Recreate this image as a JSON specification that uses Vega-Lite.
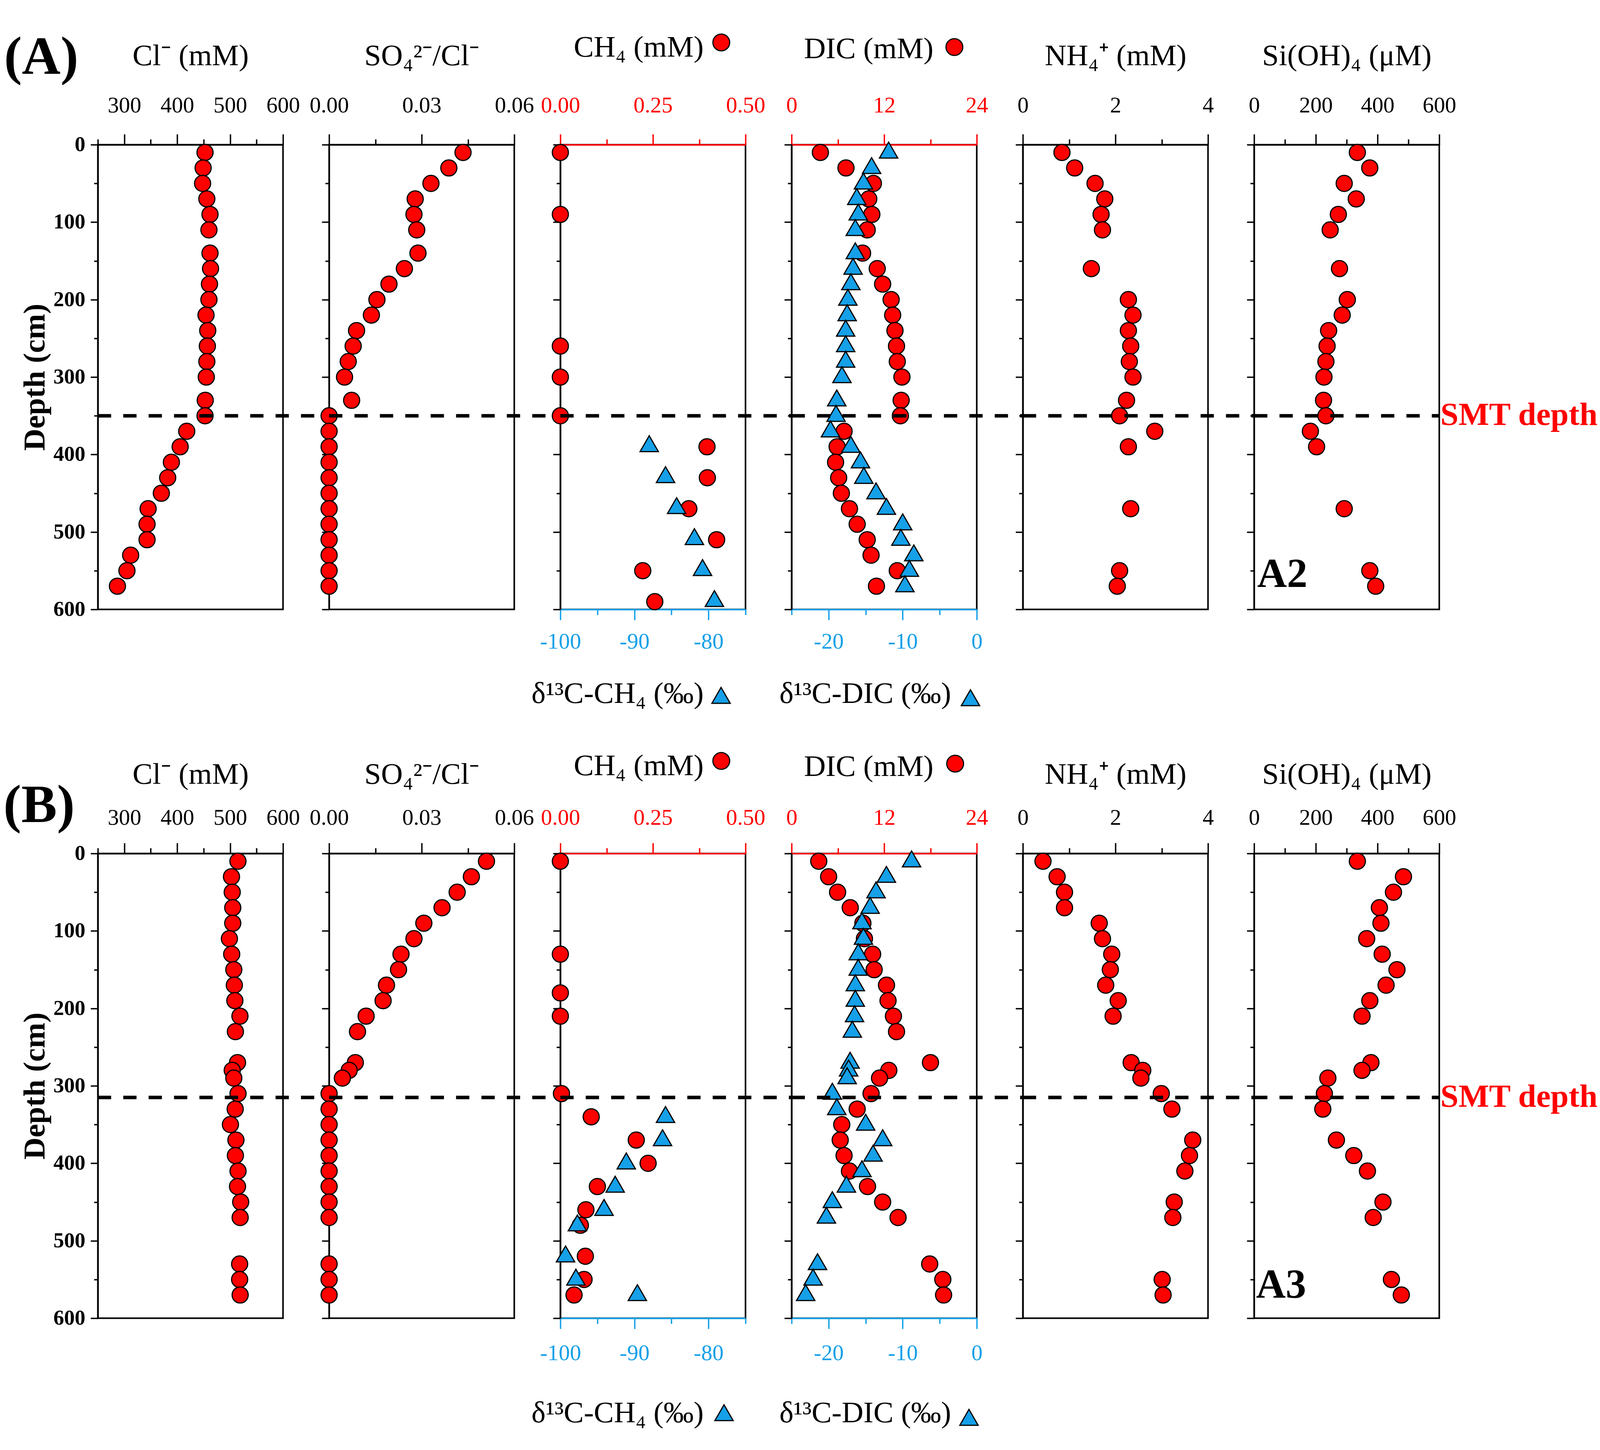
{
  "$schema": "https://vega.github.io/schema/vega-lite/v6.json",
  "padding": {"left": 6.5, "top": 76.5, "right": 0, "bottom": 4},
  "background": "#ffffff",
  "datasets": {
    "A_cl": [{"d":10,"v":452.6},{"d":30,"v":449},{"d":50,"v":448},{"d":70,"v":456},{"d":90,"v":462},{"d":110,"v":460},{"d":140,"v":462},{"d":160,"v":463},{"d":180,"v":461},{"d":200,"v":460},{"d":220,"v":454.5},{"d":240,"v":457.7},{"d":260,"v":457},{"d":280,"v":456},{"d":300,"v":455},{"d":330,"v":453},{"d":350,"v":452.6},{"d":370,"v":418},{"d":390,"v":405.6},{"d":410,"v":389},{"d":430,"v":382},{"d":450,"v":370},{"d":470,"v":345},{"d":490,"v":343},{"d":510,"v":343},{"d":530,"v":312},{"d":550,"v":305},{"d":570,"v":287}],
    "A_so4": [{"d":10,"v":0.0434},{"d":30,"v":0.0388},{"d":50,"v":0.033},{"d":70,"v":0.0279},{"d":90,"v":0.0275},{"d":110,"v":0.0284},{"d":140,"v":0.0288},{"d":160,"v":0.0244},{"d":180,"v":0.0194},{"d":200,"v":0.0155},{"d":220,"v":0.0137},{"d":240,"v":0.0089},{"d":260,"v":0.0078},{"d":280,"v":0.0062},{"d":300,"v":0.005},{"d":330,"v":0.0073},{"d":350,"v":0},{"d":370,"v":0},{"d":390,"v":0},{"d":410,"v":0},{"d":430,"v":0},{"d":450,"v":0},{"d":470,"v":0},{"d":490,"v":0},{"d":510,"v":0},{"d":530,"v":0},{"d":550,"v":0},{"d":570,"v":0}],
    "A_ch4": [{"d":10,"v":0},{"d":90,"v":0},{"d":260,"v":0},{"d":300,"v":0},{"d":350,"v":0},{"d":390,"v":0.396},{"d":430,"v":0.397},{"d":470,"v":0.347},{"d":510,"v":0.422},{"d":550,"v":0.2225},{"d":590,"v":0.255}],
    "A_dch4": [{"d":386,"v":-88.0},{"d":426,"v":-85.8},{"d":466,"v":-84.3},{"d":506,"v":-81.9},{"d":546,"v":-80.8},{"d":586,"v":-79.2}],
    "A_dic": [{"d":10,"v":3.73},{"d":30,"v":7.05},{"d":50,"v":10.6},{"d":70,"v":10.0},{"d":90,"v":10.4},{"d":110,"v":9.8},{"d":140,"v":9.2},{"d":160,"v":11.1},{"d":180,"v":11.8},{"d":200,"v":12.9},{"d":220,"v":13.1},{"d":240,"v":13.4},{"d":260,"v":13.6},{"d":280,"v":13.7},{"d":300,"v":14.3},{"d":330,"v":14.2},{"d":350,"v":14.1},{"d":370,"v":6.8},{"d":390,"v":5.9},{"d":410,"v":5.7},{"d":430,"v":6.1},{"d":450,"v":6.45},{"d":470,"v":7.5},{"d":490,"v":8.5},{"d":510,"v":9.8},{"d":530,"v":10.3},{"d":550,"v":13.7},{"d":570,"v":11.0}],
    "A_ddic": [{"d":7,"v":-11.9},{"d":27,"v":-14.2},{"d":47,"v":-15.3},{"d":67,"v":-16.2},{"d":87,"v":-16.0},{"d":107,"v":-16.4},{"d":137,"v":-16.4},{"d":157,"v":-16.7},{"d":177,"v":-17.0},{"d":197,"v":-17.4},{"d":217,"v":-17.5},{"d":237,"v":-17.7},{"d":257,"v":-17.7},{"d":277,"v":-17.7},{"d":297,"v":-18.2},{"d":327,"v":-18.9},{"d":347,"v":-19.0},{"d":367,"v":-19.75},{"d":387,"v":-17.0},{"d":407,"v":-15.7},{"d":427,"v":-15.25},{"d":447,"v":-13.6},{"d":467,"v":-12.2},{"d":487,"v":-10.0},{"d":507,"v":-10.25},{"d":527,"v":-8.5},{"d":547,"v":-9.1},{"d":567,"v":-9.7}],
    "A_nh4": [{"d":10,"v":0.845},{"d":30,"v":1.12},{"d":50,"v":1.56},{"d":70,"v":1.77},{"d":90,"v":1.69},{"d":110,"v":1.72},{"d":160,"v":1.48},{"d":200,"v":2.28},{"d":220,"v":2.38},{"d":240,"v":2.28},{"d":260,"v":2.33},{"d":280,"v":2.30},{"d":300,"v":2.38},{"d":330,"v":2.24},{"d":350,"v":2.09},{"d":370,"v":2.85},{"d":390,"v":2.28},{"d":470,"v":2.33},{"d":550,"v":2.09},{"d":570,"v":2.04}],
    "A_si": [{"d":10,"v":334.6},{"d":30,"v":374.8},{"d":50,"v":292},{"d":70,"v":331},{"d":90,"v":273},{"d":110,"v":246.5},{"d":160,"v":276.7},{"d":200,"v":302},{"d":220,"v":285.5},{"d":240,"v":241.5},{"d":260,"v":236.5},{"d":280,"v":232.7},{"d":300,"v":226.4},{"d":330,"v":225},{"d":350,"v":232.7},{"d":370,"v":182.4},{"d":390,"v":202.5},{"d":470,"v":292},{"d":550,"v":375},{"d":570,"v":394}],
    "B_cl": [{"d":10,"v":514.8},{"d":30,"v":502.6},{"d":50,"v":504},{"d":70,"v":505},{"d":90,"v":505},{"d":110,"v":498.7},{"d":130,"v":503},{"d":150,"v":507},{"d":170,"v":508},{"d":190,"v":509},{"d":210,"v":518.6},{"d":230,"v":510},{"d":270,"v":514},{"d":280,"v":504},{"d":290,"v":507},{"d":310,"v":515},{"d":330,"v":509.6},{"d":350,"v":500.6},{"d":370,"v":511},{"d":390,"v":510},{"d":410,"v":515},{"d":430,"v":514},{"d":450,"v":520},{"d":470,"v":519},{"d":530,"v":518},{"d":550,"v":518},{"d":570,"v":519}],
    "B_so4": [{"d":10,"v":0.051},{"d":30,"v":0.0461},{"d":50,"v":0.0415},{"d":70,"v":0.0366},{"d":90,"v":0.0307},{"d":110,"v":0.0275},{"d":130,"v":0.0233},{"d":150,"v":0.0225},{"d":170,"v":0.0186},{"d":190,"v":0.0175},{"d":210,"v":0.012},{"d":230,"v":0.0092},{"d":270,"v":0.0085},{"d":280,"v":0.0065},{"d":290,"v":0.0043},{"d":310,"v":0},{"d":330,"v":0},{"d":350,"v":0},{"d":370,"v":0},{"d":390,"v":0},{"d":410,"v":0},{"d":430,"v":0},{"d":450,"v":0},{"d":470,"v":0},{"d":530,"v":0},{"d":550,"v":0},{"d":570,"v":0}],
    "B_ch4": [{"d":10,"v":0},{"d":130,"v":0},{"d":180,"v":0},{"d":210,"v":0},{"d":310,"v":0.003},{"d":340,"v":0.0833},{"d":370,"v":0.205},{"d":400,"v":0.237},{"d":430,"v":0.1},{"d":460,"v":0.069},{"d":480,"v":0.054},{"d":520,"v":0.0675},{"d":550,"v":0.064},{"d":570,"v":0.037}],
    "B_dch4": [{"d":337,"v":-85.8},{"d":367,"v":-86.2},{"d":397,"v":-91.1},{"d":427,"v":-92.6},{"d":457,"v":-94.1},{"d":477,"v":-97.7},{"d":517,"v":-99.3},{"d":547,"v":-97.9},{"d":567,"v":-89.6}],
    "B_dic": [{"d":10,"v":3.52},{"d":30,"v":4.8},{"d":50,"v":5.96},{"d":70,"v":7.6},{"d":90,"v":9.24},{"d":110,"v":9.44},{"d":130,"v":10.5},{"d":150,"v":10.7},{"d":170,"v":12.3},{"d":190,"v":12.5},{"d":210,"v":13.2},{"d":230,"v":13.6},{"d":270,"v":18.0},{"d":280,"v":12.6},{"d":290,"v":11.4},{"d":310,"v":10.3},{"d":330,"v":8.5},{"d":350,"v":6.5},{"d":370,"v":6.3},{"d":390,"v":6.8},{"d":410,"v":7.5},{"d":430,"v":9.84},{"d":450,"v":11.8},{"d":470,"v":13.8},{"d":530,"v":17.9},{"d":550,"v":19.6},{"d":570,"v":19.7}],
    "B_ddic": [{"d":7,"v":-8.8},{"d":27,"v":-12.2},{"d":47,"v":-13.6},{"d":67,"v":-14.4},{"d":87,"v":-15.5},{"d":107,"v":-15.3},{"d":127,"v":-16.0},{"d":147,"v":-16.0},{"d":167,"v":-16.4},{"d":187,"v":-16.4},{"d":207,"v":-16.5},{"d":227,"v":-16.8},{"d":267,"v":-17.1},{"d":277,"v":-17.3},{"d":287,"v":-17.5},{"d":307,"v":-19.5},{"d":327,"v":-18.9},{"d":347,"v":-15.0},{"d":367,"v":-12.7},{"d":387,"v":-14.0},{"d":407,"v":-15.5},{"d":427,"v":-17.6},{"d":447,"v":-19.5},{"d":467,"v":-20.3},{"d":527,"v":-21.5},{"d":547,"v":-22.1},{"d":567,"v":-23.1}],
    "B_nh4": [{"d":10,"v":0.435},{"d":30,"v":0.74},{"d":50,"v":0.90},{"d":70,"v":0.90},{"d":90,"v":1.65},{"d":110,"v":1.72},{"d":130,"v":1.92},{"d":150,"v":1.89},{"d":170,"v":1.79},{"d":190,"v":2.06},{"d":210,"v":1.95},{"d":270,"v":2.34},{"d":280,"v":2.59},{"d":290,"v":2.55},{"d":310,"v":2.99},{"d":330,"v":3.22},{"d":370,"v":3.67},{"d":390,"v":3.60},{"d":410,"v":3.50},{"d":450,"v":3.27},{"d":470,"v":3.24},{"d":550,"v":3.01},{"d":570,"v":3.03}],
    "B_si": [{"d":10,"v":334.6},{"d":30,"v":484},{"d":50,"v":451.6},{"d":70,"v":406},{"d":90,"v":411},{"d":110,"v":364.8},{"d":130,"v":415},{"d":150,"v":463},{"d":170,"v":427.7},{"d":190,"v":375},{"d":210,"v":349.7},{"d":270,"v":378.6},{"d":280,"v":349.7},{"d":290,"v":239},{"d":310,"v":227.7},{"d":330,"v":222.6},{"d":370,"v":266.7},{"d":390,"v":323},{"d":410,"v":367.3},{"d":450,"v":417.6},{"d":470,"v":386},{"d":550,"v":445},{"d":570,"v":477}]
  },
  "columns": 6,
  "spacing": {"row": 625, "column": 118},
  "bounds": "flush",
  "concat": [
    {
      "width": 474, "height": 1190,
      "layer": [
        {"data": {"name": "A_cl"},
         "mark": {"type": "point", "shape": "circle", "filled": true, "fill": "#ff0000", "stroke": "#000000", "strokeWidth": 3, "size": 1700, "opacity": 1, "clip": false},
         "encoding": {
           "x": {"field": "v", "type": "quantitative", "scale": {"domain": [250, 600], "nice": false, "zero": false},
                 "axis": {"orient": "top", "values": [250, 300, 350, 400, 450, 500, 550, 600], "format": "d", "labelExpr": "datum.value % 100 === 0 ? datum.label : ''", "tickSize": {"condition": {"test": "datum.value % 100 === 0", "value": 27}, "value": 14}, "labelPadding": 44, "title": "Cl⁻ (mM)", "titlePadding": 58.6}},
           "y": {"field": "d", "type": "quantitative", "scale": {"domain": [0, 600], "reverse": true, "nice": false, "zero": false},
                 "axis": {"values": [0, 50, 100, 150, 200, 250, 300, 350, 400, 450, 500, 550, 600], "labelExpr": "datum.value % 100 === 0 ? datum.label : ''", "tickSize": {"condition": {"test": "datum.value % 100 === 0", "value": 18.6}, "value": 9.9}, "labelFontWeight": "bold", "labelFontSize": 54.6, "labelPadding": 13.8, "title": "Depth (cm)", "titleFontWeight": "bold", "titleFontSize": 78.4, "titlePadding": 7}}
         }},
        {"data": {"values": [{}]},
         "mark": {"type": "rule", "color": "#000000", "strokeWidth": 9, "strokeDash": [34, 31], "clip": false},
         "encoding": {"x": {"datum": 250, "type": "quantitative", "scale": {"domain": [250, 600], "nice": false, "zero": false}}, "x2": {"datum": 687.1}, "y": {"datum": 350, "type": "quantitative", "scale": {"domain": [0, 600], "reverse": true, "nice": false, "zero": false}}}},
        {"data": {"values": [{}]},
         "mark": {"type": "text", "text": "(A)", "fontSize": 137, "fontWeight": "bold", "align": "center", "baseline": "middle", "clip": false},
         "encoding": {"x": {"datum": 143, "type": "quantitative", "scale": {"domain": [250, 600], "nice": false, "zero": false}}, "y": {"datum": -112.4, "type": "quantitative", "scale": {"domain": [0, 600], "reverse": true, "nice": false, "zero": false}}}}
      ]
    },
    {
      "width": 474, "height": 1190,
      "layer": [
        {"data": {"name": "A_so4"},
         "mark": {"type": "point", "shape": "circle", "filled": true, "fill": "#ff0000", "stroke": "#000000", "strokeWidth": 3, "size": 1700, "opacity": 1, "clip": false},
         "encoding": {
           "x": {"field": "v", "type": "quantitative", "scale": {"domain": [0, 0.06], "nice": false, "zero": false},
                 "axis": {"orient": "top", "values": [0, 0.015, 0.03, 0.045, 0.06], "format": ".2f", "labelExpr": "round(datum.value * 1000) % 30 === 0 ? datum.label : ''", "tickSize": {"condition": {"test": "round(datum.value * 1000) % 30 === 0", "value": 27}, "value": 14}, "labelPadding": 44, "title": "SO₄²⁻/Cl⁻", "titlePadding": 58.6}},
           "y": {"field": "d", "type": "quantitative", "scale": {"domain": [0, 600], "reverse": true, "nice": false, "zero": false},
                 "axis": {"values": [0, 50, 100, 150, 200, 250, 300, 350, 400, 450, 500, 550, 600], "labels": false, "tickSize": {"condition": {"test": "datum.value % 100 === 0", "value": 18.6}, "value": 9.9}, "title": null}}
         }},
        {"data": {"values": [{}]},
         "mark": {"type": "rule", "color": "#000000", "strokeWidth": 9, "strokeDash": [34, 31], "clip": false},
         "encoding": {"x": {"datum": 0, "type": "quantitative", "scale": {"domain": [0, 0.06], "nice": false, "zero": false}}, "x2": {"datum": 0.07494}, "y": {"datum": 350, "type": "quantitative", "scale": {"domain": [0, 600], "reverse": true, "nice": false, "zero": false}}}}
      ]
    },
    {
      "width": 474, "height": 1190,
      "resolve": {"scale": {"x": "independent"}, "axis": {"x": "independent"}},
      "layer": [
        {"data": {"name": "A_ch4"},
         "mark": {"type": "point", "shape": "circle", "filled": true, "fill": "#ff0000", "stroke": "#000000", "strokeWidth": 3, "size": 1700, "opacity": 1, "clip": false},
         "encoding": {
           "x": {"field": "v", "type": "quantitative", "scale": {"domain": [0, 0.5], "nice": false, "zero": false},
                 "axis": {"orient": "top", "values": [0, 0.125, 0.25, 0.375, 0.5], "format": ".2f", "labelExpr": "round(datum.value * 1000) % 250 === 0 ? datum.label : ''", "tickSize": {"condition": {"test": "round(datum.value * 1000) % 250 === 0", "value": 27}, "value": 14}, "labelPadding": 44, "domainColor": "#ff0000", "tickColor": "#ff0000", "labelColor": "#ff0000", "title": "CH₄ (mM)", "titleX": 200, "titlePadding": 80.6}},
           "y": {"field": "d", "type": "quantitative", "scale": {"domain": [0, 600], "reverse": true, "nice": false, "zero": false},
                 "axis": {"values": [0, 50, 100, 150, 200, 250, 300, 350, 400, 450, 500, 550, 600], "labels": false, "tickSize": {"condition": {"test": "datum.value % 100 === 0", "value": 18.6}, "value": 9.9}, "title": null}}
         }},
        {"data": {"name": "A_dch4"},
         "mark": {"type": "point", "shape": "triangle-up", "filled": true, "fill": "#15a0e8", "stroke": "#000000", "strokeWidth": 3, "size": 2200, "opacity": 1, "clip": false},
         "encoding": {
           "x": {"field": "v", "type": "quantitative", "scale": {"domain": [-100, -75], "nice": false, "zero": false},
                 "axis": {"orient": "bottom", "values": [-100, -95, -90, -85, -80, -75], "labelExpr": "datum.value % 10 === 0 ? '' + datum.value : ''", "tickSize": {"condition": {"test": "datum.value % 10 === 0", "value": 27}, "value": 14}, "labelPadding": 28, "domainColor": "#15a0e8", "tickColor": "#15a0e8", "labelColor": "#15a0e8", "title": "δ¹³C-CH₄ (‰)", "titleX": 146, "titlePadding": 66.6}},
           "y": {"field": "d", "type": "quantitative", "scale": {"domain": [0, 600], "reverse": true, "nice": false, "zero": false}}
         }},
        {"data": {"values": [{}]},
         "mark": {"type": "rule", "color": "#000000", "strokeWidth": 9, "strokeDash": [34, 31], "clip": false},
         "encoding": {"x": {"datum": 0, "type": "quantitative", "scale": {"domain": [0, 0.5], "nice": false, "zero": false}, "axis": null}, "x2": {"datum": 0.6245}, "y": {"datum": 350, "type": "quantitative", "scale": {"domain": [0, 600], "reverse": true, "nice": false, "zero": false}}}},
        {"data": {"values": [{}]},
         "mark": {"type": "point", "shape": "circle", "filled": true, "fill": "#ff0000", "stroke": "#000000", "strokeWidth": 3, "size": 1850, "opacity": 1, "clip": false},
         "encoding": {"x": {"datum": 0.4346, "type": "quantitative", "scale": {"domain": [0, 0.5], "nice": false, "zero": false}, "axis": null}, "y": {"datum": -132, "type": "quantitative", "scale": {"domain": [0, 600], "reverse": true, "nice": false, "zero": false}}}},
        {"data": {"values": [{}]},
         "mark": {"type": "point", "shape": "triangle-up", "filled": true, "fill": "#15a0e8", "stroke": "#000000", "strokeWidth": 3, "size": 2200, "opacity": 1, "clip": false},
         "encoding": {"x": {"datum": -78.3, "type": "quantitative", "scale": {"domain": [-100, -75], "nice": false, "zero": false}, "axis": null}, "y": {"datum": 711, "type": "quantitative", "scale": {"domain": [0, 600], "reverse": true, "nice": false, "zero": false}}}}
      ]
    },
    {
      "width": 474, "height": 1190,
      "resolve": {"scale": {"x": "independent"}, "axis": {"x": "independent"}},
      "layer": [
        {"data": {"name": "A_dic"},
         "mark": {"type": "point", "shape": "circle", "filled": true, "fill": "#ff0000", "stroke": "#000000", "strokeWidth": 3, "size": 1700, "opacity": 1, "clip": false},
         "encoding": {
           "x": {"field": "v", "type": "quantitative", "scale": {"domain": [0, 24], "nice": false, "zero": false},
                 "axis": {"orient": "top", "values": [0, 6, 12, 18, 24], "format": "d", "labelExpr": "datum.value % 12 === 0 ? datum.label : ''", "tickSize": {"condition": {"test": "datum.value % 12 === 0", "value": 27}, "value": 14}, "labelPadding": 44, "domainColor": "#ff0000", "tickColor": "#ff0000", "labelColor": "#ff0000", "title": "DIC (mM)", "titleX": 197, "titlePadding": 77}},
           "y": {"field": "d", "type": "quantitative", "scale": {"domain": [0, 600], "reverse": true, "nice": false, "zero": false},
                 "axis": {"values": [0, 50, 100, 150, 200, 250, 300, 350, 400, 450, 500, 550, 600], "labels": false, "tickSize": {"condition": {"test": "datum.value % 100 === 0", "value": 18.6}, "value": 9.9}, "title": null}}
         }},
        {"data": {"name": "A_ddic"},
         "mark": {"type": "point", "shape": "triangle-up", "filled": true, "fill": "#15a0e8", "stroke": "#000000", "strokeWidth": 3, "size": 2200, "opacity": 1, "clip": false},
         "encoding": {
           "x": {"field": "v", "type": "quantitative", "scale": {"domain": [-25, 0], "nice": false, "zero": false},
                 "axis": {"orient": "bottom", "values": [-25, -20, -15, -10, -5, 0], "labelExpr": "datum.value % 10 === 0 ? '' + datum.value : ''", "tickSize": {"condition": {"test": "datum.value % 10 === 0", "value": 27}, "value": 14}, "labelPadding": 28, "domainColor": "#15a0e8", "tickColor": "#15a0e8", "labelColor": "#15a0e8", "title": "δ¹³C-DIC (‰)", "titleX": 188, "titlePadding": 66.6}},
           "y": {"field": "d", "type": "quantitative", "scale": {"domain": [0, 600], "reverse": true, "nice": false, "zero": false}}
         }},
        {"data": {"values": [{}]},
         "mark": {"type": "rule", "color": "#000000", "strokeWidth": 9, "strokeDash": [34, 31], "clip": false},
         "encoding": {"x": {"datum": 0, "type": "quantitative", "scale": {"domain": [0, 24], "nice": false, "zero": false}, "axis": null}, "x2": {"datum": 29.97}, "y": {"datum": 350, "type": "quantitative", "scale": {"domain": [0, 600], "reverse": true, "nice": false, "zero": false}}}},
        {"data": {"values": [{}]},
         "mark": {"type": "point", "shape": "circle", "filled": true, "fill": "#ff0000", "stroke": "#000000", "strokeWidth": 3, "size": 1850, "opacity": 1, "clip": false},
         "encoding": {"x": {"datum": 21.1, "type": "quantitative", "scale": {"domain": [0, 24], "nice": false, "zero": false}, "axis": null}, "y": {"datum": -126, "type": "quantitative", "scale": {"domain": [0, 600], "reverse": true, "nice": false, "zero": false}}}},
        {"data": {"values": [{}]},
         "mark": {"type": "point", "shape": "triangle-up", "filled": true, "fill": "#15a0e8", "stroke": "#000000", "strokeWidth": 3, "size": 2200, "opacity": 1, "clip": false},
         "encoding": {"x": {"datum": -0.85, "type": "quantitative", "scale": {"domain": [-25, 0], "nice": false, "zero": false}, "axis": null}, "y": {"datum": 714, "type": "quantitative", "scale": {"domain": [0, 600], "reverse": true, "nice": false, "zero": false}}}}
      ]
    },
    {
      "width": 474, "height": 1190,
      "layer": [
        {"data": {"name": "A_nh4"},
         "mark": {"type": "point", "shape": "circle", "filled": true, "fill": "#ff0000", "stroke": "#000000", "strokeWidth": 3, "size": 1700, "opacity": 1, "clip": false},
         "encoding": {
           "x": {"field": "v", "type": "quantitative", "scale": {"domain": [0, 4], "nice": false, "zero": false},
                 "axis": {"orient": "top", "values": [0, 1, 2, 3, 4], "format": "d", "labelExpr": "datum.value % 2 === 0 ? datum.label : ''", "tickSize": {"condition": {"test": "datum.value % 2 === 0", "value": 27}, "value": 14}, "labelPadding": 44, "title": "NH₄⁺ (mM)", "titlePadding": 58.6}},
           "y": {"field": "d", "type": "quantitative", "scale": {"domain": [0, 600], "reverse": true, "nice": false, "zero": false},
                 "axis": {"values": [0, 50, 100, 150, 200, 250, 300, 350, 400, 450, 500, 550, 600], "labels": false, "tickSize": {"condition": {"test": "datum.value % 100 === 0", "value": 18.6}, "value": 9.9}, "title": null}}
         }},
        {"data": {"values": [{}]},
         "mark": {"type": "rule", "color": "#000000", "strokeWidth": 9, "strokeDash": [34, 31], "clip": false},
         "encoding": {"x": {"datum": 0, "type": "quantitative", "scale": {"domain": [0, 4], "nice": false, "zero": false}}, "x2": {"datum": 4.996}, "y": {"datum": 350, "type": "quantitative", "scale": {"domain": [0, 600], "reverse": true, "nice": false, "zero": false}}}}
      ]
    },
    {
      "width": 474, "height": 1190,
      "layer": [
        {"data": {"name": "A_si"},
         "mark": {"type": "point", "shape": "circle", "filled": true, "fill": "#ff0000", "stroke": "#000000", "strokeWidth": 3, "size": 1700, "opacity": 1, "clip": false},
         "encoding": {
           "x": {"field": "v", "type": "quantitative", "scale": {"domain": [0, 600], "nice": false, "zero": false},
                 "axis": {"orient": "top", "values": [0, 100, 200, 300, 400, 500, 600], "format": "d", "labelExpr": "datum.value % 200 === 0 ? datum.label : ''", "tickSize": {"condition": {"test": "datum.value % 200 === 0", "value": 27}, "value": 14}, "labelPadding": 44, "title": "Si(OH)₄ (μM)", "titlePadding": 58.6}},
           "y": {"field": "d", "type": "quantitative", "scale": {"domain": [0, 600], "reverse": true, "nice": false, "zero": false},
                 "axis": {"values": [0, 50, 100, 150, 200, 250, 300, 350, 400, 450, 500, 550, 600], "labels": false, "tickSize": {"condition": {"test": "datum.value % 100 === 0", "value": 18.6}, "value": 9.9}, "title": null}}
         }},
        {"data": {"values": [{}]},
         "mark": {"type": "rule", "color": "#000000", "strokeWidth": 9, "strokeDash": [34, 31], "clip": false},
         "encoding": {"x": {"datum": 0, "type": "quantitative", "scale": {"domain": [0, 600], "nice": false, "zero": false}}, "x2": {"datum": 600}, "y": {"datum": 350, "type": "quantitative", "scale": {"domain": [0, 600], "reverse": true, "nice": false, "zero": false}}}},
        {"data": {"values": [{}]},
         "mark": {"type": "text", "text": "SMT depth", "fontSize": 83, "fontWeight": "bold", "color": "#ff0000", "align": "left", "baseline": "alphabetic", "dx": 3, "dy": 23, "clip": false},
         "encoding": {"x": {"datum": 600, "type": "quantitative", "scale": {"domain": [0, 600], "nice": false, "zero": false}}, "y": {"datum": 350, "type": "quantitative", "scale": {"domain": [0, 600], "reverse": true, "nice": false, "zero": false}}}},
        {"data": {"values": [{}]},
         "mark": {"type": "text", "text": "A2", "fontSize": 105, "fontWeight": "bold", "color": "#000000", "align": "left", "baseline": "alphabetic", "clip": false},
         "encoding": {"x": {"datum": 10.2, "type": "quantitative", "scale": {"domain": [0, 600], "nice": false, "zero": false}}, "y": {"datum": 571, "type": "quantitative", "scale": {"domain": [0, 600], "reverse": true, "nice": false, "zero": false}}}}
      ]
    },
    {
      "width": 474, "height": 1190,
      "layer": [
        {"data": {"name": "B_cl"},
         "mark": {"type": "point", "shape": "circle", "filled": true, "fill": "#ff0000", "stroke": "#000000", "strokeWidth": 3, "size": 1700, "opacity": 1, "clip": false},
         "encoding": {
           "x": {"field": "v", "type": "quantitative", "scale": {"domain": [250, 600], "nice": false, "zero": false},
                 "axis": {"orient": "top", "values": [250, 300, 350, 400, 450, 500, 550, 600], "format": "d", "labelExpr": "datum.value % 100 === 0 ? datum.label : ''", "tickSize": {"condition": {"test": "datum.value % 100 === 0", "value": 27}, "value": 14}, "labelPadding": 35, "title": "Cl⁻ (mM)", "titlePadding": 42.6}},
           "y": {"field": "d", "type": "quantitative", "scale": {"domain": [0, 600], "reverse": true, "nice": false, "zero": false},
                 "axis": {"values": [0, 50, 100, 150, 200, 250, 300, 350, 400, 450, 500, 550, 600], "labelExpr": "datum.value % 100 === 0 ? datum.label : ''", "tickSize": {"condition": {"test": "datum.value % 100 === 0", "value": 18.6}, "value": 9.9}, "labelFontWeight": "bold", "labelFontSize": 54.6, "labelPadding": 13.8, "title": "Depth (cm)", "titleFontWeight": "bold", "titleFontSize": 78.4, "titlePadding": 7}}
         }},
        {"data": {"values": [{}]},
         "mark": {"type": "rule", "color": "#000000", "strokeWidth": 9, "strokeDash": [34, 31], "clip": false},
         "encoding": {"x": {"datum": 250, "type": "quantitative", "scale": {"domain": [250, 600], "nice": false, "zero": false}}, "x2": {"datum": 687.1}, "y": {"datum": 315, "type": "quantitative", "scale": {"domain": [0, 600], "reverse": true, "nice": false, "zero": false}}}},
        {"data": {"values": [{}]},
         "mark": {"type": "text", "text": "(B)", "fontSize": 137, "fontWeight": "bold", "align": "center", "baseline": "middle", "clip": false},
         "encoding": {"x": {"datum": 139, "type": "quantitative", "scale": {"domain": [250, 600], "nice": false, "zero": false}}, "y": {"datum": -61.5, "type": "quantitative", "scale": {"domain": [0, 600], "reverse": true, "nice": false, "zero": false}}}}
      ]
    },
    {
      "width": 474, "height": 1190,
      "layer": [
        {"data": {"name": "B_so4"},
         "mark": {"type": "point", "shape": "circle", "filled": true, "fill": "#ff0000", "stroke": "#000000", "strokeWidth": 3, "size": 1700, "opacity": 1, "clip": false},
         "encoding": {
           "x": {"field": "v", "type": "quantitative", "scale": {"domain": [0, 0.06], "nice": false, "zero": false},
                 "axis": {"orient": "top", "values": [0, 0.015, 0.03, 0.045, 0.06], "format": ".2f", "labelExpr": "round(datum.value * 1000) % 30 === 0 ? datum.label : ''", "tickSize": {"condition": {"test": "round(datum.value * 1000) % 30 === 0", "value": 27}, "value": 14}, "labelPadding": 35, "title": "SO₄²⁻/Cl⁻", "titlePadding": 42.6}},
           "y": {"field": "d", "type": "quantitative", "scale": {"domain": [0, 600], "reverse": true, "nice": false, "zero": false},
                 "axis": {"values": [0, 50, 100, 150, 200, 250, 300, 350, 400, 450, 500, 550, 600], "labels": false, "tickSize": {"condition": {"test": "datum.value % 100 === 0", "value": 18.6}, "value": 9.9}, "title": null}}
         }},
        {"data": {"values": [{}]},
         "mark": {"type": "rule", "color": "#000000", "strokeWidth": 9, "strokeDash": [34, 31], "clip": false},
         "encoding": {"x": {"datum": 0, "type": "quantitative", "scale": {"domain": [0, 0.06], "nice": false, "zero": false}}, "x2": {"datum": 0.07494}, "y": {"datum": 315, "type": "quantitative", "scale": {"domain": [0, 600], "reverse": true, "nice": false, "zero": false}}}}
      ]
    },
    {
      "width": 474, "height": 1190,
      "resolve": {"scale": {"x": "independent"}, "axis": {"x": "independent"}},
      "layer": [
        {"data": {"name": "B_ch4"},
         "mark": {"type": "point", "shape": "circle", "filled": true, "fill": "#ff0000", "stroke": "#000000", "strokeWidth": 3, "size": 1700, "opacity": 1, "clip": false},
         "encoding": {
           "x": {"field": "v", "type": "quantitative", "scale": {"domain": [0, 0.5], "nice": false, "zero": false},
                 "axis": {"orient": "top", "values": [0, 0.125, 0.25, 0.375, 0.5], "format": ".2f", "labelExpr": "round(datum.value * 1000) % 250 === 0 ? datum.label : ''", "tickSize": {"condition": {"test": "round(datum.value * 1000) % 250 === 0", "value": 27}, "value": 14}, "labelPadding": 35, "domainColor": "#ff0000", "tickColor": "#ff0000", "labelColor": "#ff0000", "title": "CH₄ (mM)", "titleX": 200, "titlePadding": 64.6}},
           "y": {"field": "d", "type": "quantitative", "scale": {"domain": [0, 600], "reverse": true, "nice": false, "zero": false},
                 "axis": {"values": [0, 50, 100, 150, 200, 250, 300, 350, 400, 450, 500, 550, 600], "labels": false, "tickSize": {"condition": {"test": "datum.value % 100 === 0", "value": 18.6}, "value": 9.9}, "title": null}}
         }},
        {"data": {"name": "B_dch4"},
         "mark": {"type": "point", "shape": "triangle-up", "filled": true, "fill": "#15a0e8", "stroke": "#000000", "strokeWidth": 3, "size": 2200, "opacity": 1, "clip": false},
         "encoding": {
           "x": {"field": "v", "type": "quantitative", "scale": {"domain": [-100, -75], "nice": false, "zero": false},
                 "axis": {"orient": "bottom", "values": [-100, -95, -90, -85, -80, -75], "labelExpr": "datum.value % 10 === 0 ? '' + datum.value : ''", "tickSize": {"condition": {"test": "datum.value % 10 === 0", "value": 27}, "value": 14}, "labelPadding": 35, "domainColor": "#15a0e8", "tickColor": "#15a0e8", "labelColor": "#15a0e8", "title": "δ¹³C-CH₄ (‰)", "titleX": 146, "titlePadding": 86.6}},
           "y": {"field": "d", "type": "quantitative", "scale": {"domain": [0, 600], "reverse": true, "nice": false, "zero": false}}
         }},
        {"data": {"values": [{}]},
         "mark": {"type": "rule", "color": "#000000", "strokeWidth": 9, "strokeDash": [34, 31], "clip": false},
         "encoding": {"x": {"datum": 0, "type": "quantitative", "scale": {"domain": [0, 0.5], "nice": false, "zero": false}, "axis": null}, "x2": {"datum": 0.6245}, "y": {"datum": 315, "type": "quantitative", "scale": {"domain": [0, 600], "reverse": true, "nice": false, "zero": false}}}},
        {"data": {"values": [{}]},
         "mark": {"type": "point", "shape": "circle", "filled": true, "fill": "#ff0000", "stroke": "#000000", "strokeWidth": 3, "size": 1850, "opacity": 1, "clip": false},
         "encoding": {"x": {"datum": 0.4346, "type": "quantitative", "scale": {"domain": [0, 0.5], "nice": false, "zero": false}, "axis": null}, "y": {"datum": -119.5, "type": "quantitative", "scale": {"domain": [0, 600], "reverse": true, "nice": false, "zero": false}}}},
        {"data": {"values": [{}]},
         "mark": {"type": "point", "shape": "triangle-up", "filled": true, "fill": "#15a0e8", "stroke": "#000000", "strokeWidth": 3, "size": 2200, "opacity": 1, "clip": false},
         "encoding": {"x": {"datum": -77.9, "type": "quantitative", "scale": {"domain": [-100, -75], "nice": false, "zero": false}, "axis": null}, "y": {"datum": 722, "type": "quantitative", "scale": {"domain": [0, 600], "reverse": true, "nice": false, "zero": false}}}}
      ]
    },
    {
      "width": 474, "height": 1190,
      "resolve": {"scale": {"x": "independent"}, "axis": {"x": "independent"}},
      "layer": [
        {"data": {"name": "B_dic"},
         "mark": {"type": "point", "shape": "circle", "filled": true, "fill": "#ff0000", "stroke": "#000000", "strokeWidth": 3, "size": 1700, "opacity": 1, "clip": false},
         "encoding": {
           "x": {"field": "v", "type": "quantitative", "scale": {"domain": [0, 24], "nice": false, "zero": false},
                 "axis": {"orient": "top", "values": [0, 6, 12, 18, 24], "format": "d", "labelExpr": "datum.value % 12 === 0 ? datum.label : ''", "tickSize": {"condition": {"test": "datum.value % 12 === 0", "value": 27}, "value": 14}, "labelPadding": 35, "domainColor": "#ff0000", "tickColor": "#ff0000", "labelColor": "#ff0000", "title": "DIC (mM)", "titleX": 197, "titlePadding": 63}},
           "y": {"field": "d", "type": "quantitative", "scale": {"domain": [0, 600], "reverse": true, "nice": false, "zero": false},
                 "axis": {"values": [0, 50, 100, 150, 200, 250, 300, 350, 400, 450, 500, 550, 600], "labels": false, "tickSize": {"condition": {"test": "datum.value % 100 === 0", "value": 18.6}, "value": 9.9}, "title": null}}
         }},
        {"data": {"name": "B_ddic"},
         "mark": {"type": "point", "shape": "triangle-up", "filled": true, "fill": "#15a0e8", "stroke": "#000000", "strokeWidth": 3, "size": 2200, "opacity": 1, "clip": false},
         "encoding": {
           "x": {"field": "v", "type": "quantitative", "scale": {"domain": [-25, 0], "nice": false, "zero": false},
                 "axis": {"orient": "bottom", "values": [-25, -20, -15, -10, -5, 0], "labelExpr": "datum.value % 10 === 0 ? '' + datum.value : ''", "tickSize": {"condition": {"test": "datum.value % 10 === 0", "value": 27}, "value": 14}, "labelPadding": 35, "domainColor": "#15a0e8", "tickColor": "#15a0e8", "labelColor": "#15a0e8", "title": "δ¹³C-DIC (‰)", "titleX": 188, "titlePadding": 86.6}},
           "y": {"field": "d", "type": "quantitative", "scale": {"domain": [0, 600], "reverse": true, "nice": false, "zero": false}}
         }},
        {"data": {"values": [{}]},
         "mark": {"type": "rule", "color": "#000000", "strokeWidth": 9, "strokeDash": [34, 31], "clip": false},
         "encoding": {"x": {"datum": 0, "type": "quantitative", "scale": {"domain": [0, 24], "nice": false, "zero": false}, "axis": null}, "x2": {"datum": 29.97}, "y": {"datum": 315, "type": "quantitative", "scale": {"domain": [0, 600], "reverse": true, "nice": false, "zero": false}}}},
        {"data": {"values": [{}]},
         "mark": {"type": "point", "shape": "circle", "filled": true, "fill": "#ff0000", "stroke": "#000000", "strokeWidth": 3, "size": 1850, "opacity": 1, "clip": false},
         "encoding": {"x": {"datum": 21.2, "type": "quantitative", "scale": {"domain": [0, 24], "nice": false, "zero": false}, "axis": null}, "y": {"datum": -116, "type": "quantitative", "scale": {"domain": [0, 600], "reverse": true, "nice": false, "zero": false}}}},
        {"data": {"values": [{}]},
         "mark": {"type": "point", "shape": "triangle-up", "filled": true, "fill": "#15a0e8", "stroke": "#000000", "strokeWidth": 3, "size": 2200, "opacity": 1, "clip": false},
         "encoding": {"x": {"datum": -1.05, "type": "quantitative", "scale": {"domain": [-25, 0], "nice": false, "zero": false}, "axis": null}, "y": {"datum": 728, "type": "quantitative", "scale": {"domain": [0, 600], "reverse": true, "nice": false, "zero": false}}}}
      ]
    },
    {
      "width": 474, "height": 1190,
      "layer": [
        {"data": {"name": "B_nh4"},
         "mark": {"type": "point", "shape": "circle", "filled": true, "fill": "#ff0000", "stroke": "#000000", "strokeWidth": 3, "size": 1700, "opacity": 1, "clip": false},
         "encoding": {
           "x": {"field": "v", "type": "quantitative", "scale": {"domain": [0, 4], "nice": false, "zero": false},
                 "axis": {"orient": "top", "values": [0, 1, 2, 3, 4], "format": "d", "labelExpr": "datum.value % 2 === 0 ? datum.label : ''", "tickSize": {"condition": {"test": "datum.value % 2 === 0", "value": 27}, "value": 14}, "labelPadding": 35, "title": "NH₄⁺ (mM)", "titlePadding": 42.6}},
           "y": {"field": "d", "type": "quantitative", "scale": {"domain": [0, 600], "reverse": true, "nice": false, "zero": false},
                 "axis": {"values": [0, 50, 100, 150, 200, 250, 300, 350, 400, 450, 500, 550, 600], "labels": false, "tickSize": {"condition": {"test": "datum.value % 100 === 0", "value": 18.6}, "value": 9.9}, "title": null}}
         }},
        {"data": {"values": [{}]},
         "mark": {"type": "rule", "color": "#000000", "strokeWidth": 9, "strokeDash": [34, 31], "clip": false},
         "encoding": {"x": {"datum": 0, "type": "quantitative", "scale": {"domain": [0, 4], "nice": false, "zero": false}}, "x2": {"datum": 4.996}, "y": {"datum": 315, "type": "quantitative", "scale": {"domain": [0, 600], "reverse": true, "nice": false, "zero": false}}}}
      ]
    },
    {
      "width": 474, "height": 1190,
      "layer": [
        {"data": {"name": "B_si"},
         "mark": {"type": "point", "shape": "circle", "filled": true, "fill": "#ff0000", "stroke": "#000000", "strokeWidth": 3, "size": 1700, "opacity": 1, "clip": false},
         "encoding": {
           "x": {"field": "v", "type": "quantitative", "scale": {"domain": [0, 600], "nice": false, "zero": false},
                 "axis": {"orient": "top", "values": [0, 100, 200, 300, 400, 500, 600], "format": "d", "labelExpr": "datum.value % 200 === 0 ? datum.label : ''", "tickSize": {"condition": {"test": "datum.value % 200 === 0", "value": 27}, "value": 14}, "labelPadding": 35, "title": "Si(OH)₄ (μM)", "titlePadding": 42.6}},
           "y": {"field": "d", "type": "quantitative", "scale": {"domain": [0, 600], "reverse": true, "nice": false, "zero": false},
                 "axis": {"values": [0, 50, 100, 150, 200, 250, 300, 350, 400, 450, 500, 550, 600], "labels": false, "tickSize": {"condition": {"test": "datum.value % 100 === 0", "value": 18.6}, "value": 9.9}, "title": null}}
         }},
        {"data": {"values": [{}]},
         "mark": {"type": "rule", "color": "#000000", "strokeWidth": 9, "strokeDash": [34, 31], "clip": false},
         "encoding": {"x": {"datum": 0, "type": "quantitative", "scale": {"domain": [0, 600], "nice": false, "zero": false}}, "x2": {"datum": 600}, "y": {"datum": 315, "type": "quantitative", "scale": {"domain": [0, 600], "reverse": true, "nice": false, "zero": false}}}},
        {"data": {"values": [{}]},
         "mark": {"type": "text", "text": "SMT depth", "fontSize": 83, "fontWeight": "bold", "color": "#ff0000", "align": "left", "baseline": "alphabetic", "dx": 3, "dy": 24, "clip": false},
         "encoding": {"x": {"datum": 600, "type": "quantitative", "scale": {"domain": [0, 600], "nice": false, "zero": false}}, "y": {"datum": 315, "type": "quantitative", "scale": {"domain": [0, 600], "reverse": true, "nice": false, "zero": false}}}},
        {"data": {"values": [{}]},
         "mark": {"type": "text", "text": "A3", "fontSize": 105, "fontWeight": "bold", "color": "#000000", "align": "left", "baseline": "alphabetic", "clip": false},
         "encoding": {"x": {"datum": 6.3, "type": "quantitative", "scale": {"domain": [0, 600], "nice": false, "zero": false}}, "y": {"datum": 573.3, "type": "quantitative", "scale": {"domain": [0, 600], "reverse": true, "nice": false, "zero": false}}}}
      ]
    }
  ],
  "config": {
    "font": "Liberation Serif",
    "view": {"stroke": "#000000", "strokeWidth": 4},
    "axis": {
      "grid": false,
      "domainColor": "#000000",
      "domainWidth": 4,
      "tickColor": "#000000",
      "tickWidth": 3.5,
      "labelFont": "Liberation Serif",
      "labelFontSize": 57.4,
      "labelColor": "#000000",
      "labelFlush": false,
      "labelOverlap": false,
      "labelBound": false,
      "titleFont": "Liberation Serif",
      "titleFontSize": 77,
      "titleFontWeight": "normal",
      "titleColor": "#000000"
    }
  }
}
